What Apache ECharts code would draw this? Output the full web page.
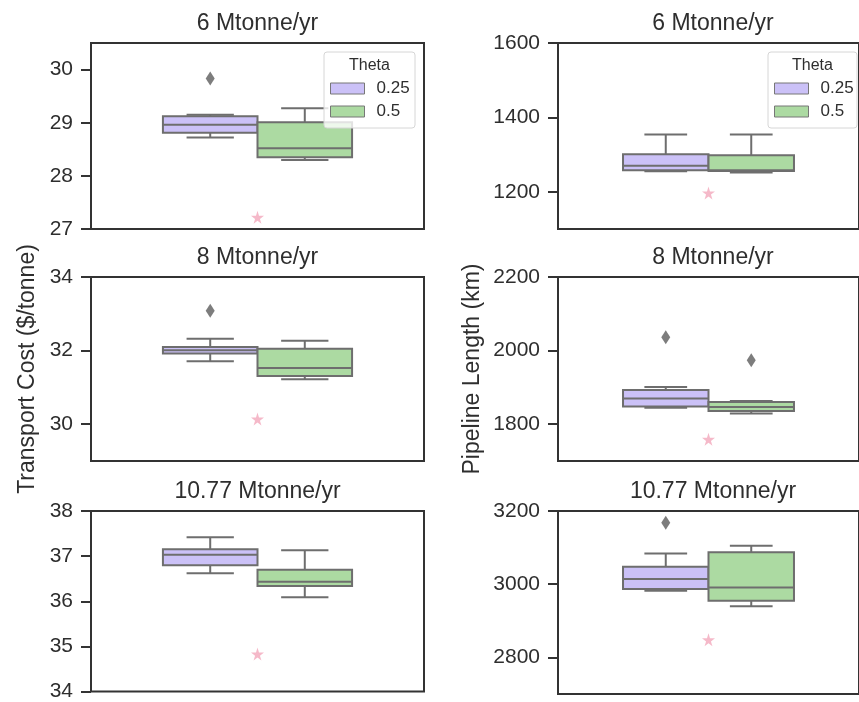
<!DOCTYPE html>
<html><head><meta charset="utf-8">
<script src="https://cdn.jsdelivr.net/npm/echarts@6/dist/echarts.min.js"></script>
<style>html,body{margin:0;padding:0;background:#fff}#c{width:859px;height:702px}</style>
</head><body><div id="c"></div>
<script>
// ---------------- data ----------------
const panelTitles = ['6 Mtonne/yr', '8 Mtonne/yr', '10.77 Mtonne/yr'];
const thetaLevels = ['0.25', '0.5'];
// box stats per panel: [lower whisker, q1, median, q3, upper whisker]
const costBox025 = [[28.72, 28.81, 28.96, 29.12, 29.15], [31.71, 31.92, 32.01, 32.10, 32.32], [36.62, 36.80, 37.03, 37.15, 37.42]];
const costBox05  = [[28.30, 28.35, 28.52, 29.01, 29.27], [31.22, 31.31, 31.53, 32.05, 32.27], [36.09, 36.34, 36.43, 36.70, 37.13]];
const costOutliers025 = [[29.83], [33.08], []];
const costOutliers05  = [[], [], []];
const costReference = [27.22, 30.14, 34.83];
const costTicks = [[27, 28, 29, 30], [30, 32, 34], [34, 35, 36, 37, 38]];
const costRange = [[27, 30.5], [29, 34], [34, 38]];

const lengthBox025 = [[1255, 1258, 1270, 1301, 1354], [1845, 1848, 1870, 1893, 1901], [2982, 2987, 3014, 3048, 3084]];
const lengthBox05  = [[1252, 1256, 1258, 1298, 1354], [1829, 1836, 1847, 1860, 1863], [2940, 2955, 2991, 3087, 3105]];
const lengthOutliers025 = [[], [2036], [3168]];
const lengthOutliers05  = [[], [1974], []];
const lengthReference = [1197, 1759, 2848];
const lengthTicks = [[1200, 1400, 1600], [1800, 2000, 2200], [2800, 3000, 3200]];
const lengthRange = [[1100, 1600], [1700, 2200], [2700, 3200]];

// ---------------- layout / style ----------------
const FONT = '"Liberation Sans", Arial, Helvetica, sans-serif';
const TXT = '#2e2e2e';
const rows = [{ top: 43, height: 186 }, { top: 277, height: 184 }, { top: 511, height: 183 }];
const cols = [{ left: 91, width: 333 }, { left: 558, width: 310 }];
const BOX_W = 0.284;
const OFFSETS = [-0.142, 0.142];
const FILLS = ['#cbc1f7', '#acdaa2'];
const EDGE = '#6e6e6e';
const STAR = 'path://M50,0 L61,35 L98,35 L68,57 L79,91 L50,70 L21,91 L32,57 L2,35 L39,35 Z';

const metrics = [
  { box: [costBox025, costBox05], out: [costOutliers025, costOutliers05], ref: costReference, ticks: costTicks, range: costRange, name: 'Transport Cost ($/tonne)', nameGap: 52 },
  { box: [lengthBox025, lengthBox05], out: [lengthOutliers025, lengthOutliers05], ref: lengthReference, ticks: lengthTicks, range: lengthRange, name: 'Pipeline Length (km)', nameGap: 74 }
];

function renderBox(params, api) {
  const x = api.value(0), lo = api.value(1), q1 = api.value(2), md = api.value(3), q3 = api.value(4), hi = api.value(5);
  const h = BOX_W / 2, ch = BOX_W / 4;
  const a = api.coord([x - h, q3]), b = api.coord([x + h, q1]);
  const m1 = api.coord([x - h, md]), m2 = api.coord([x + h, md]);
  const top = api.coord([x, hi]), bot = api.coord([x, lo]);
  const c1 = api.coord([x - ch, hi]), c2 = api.coord([x + ch, hi]);
  const d1 = api.coord([x - ch, lo]), d2 = api.coord([x + ch, lo]);
  const ls = { stroke: EDGE, lineWidth: 2, fill: null };
  return { type: 'group', children: [
    { type: 'line', shape: { x1: top[0], y1: a[1], x2: top[0], y2: top[1] }, style: ls },
    { type: 'line', shape: { x1: c1[0], y1: c1[1], x2: c2[0], y2: c2[1] }, style: ls },
    { type: 'line', shape: { x1: bot[0], y1: b[1], x2: bot[0], y2: bot[1] }, style: ls },
    { type: 'line', shape: { x1: d1[0], y1: d1[1], x2: d2[0], y2: d2[1] }, style: ls },
    { type: 'rect', shape: { x: a[0], y: a[1], width: b[0] - a[0], height: b[1] - a[1] }, style: { fill: api.visual('color'), stroke: EDGE, lineWidth: 2 } },
    { type: 'line', shape: { x1: m1[0], y1: m1[1], x2: m2[0], y2: m2[1] }, style: ls }
  ] };
}

const grid = [], xAxis = [], yAxis = [], series = [], title = [];
metrics.forEach((m, c) => {
  rows.forEach((rw, r) => {
    const gi = grid.length;
    grid.push({ left: cols[c].left, width: cols[c].width, top: rw.top, height: rw.height, show: true, borderColor: '#333', borderWidth: 2, backgroundColor: '#fff' });
    xAxis.push({ type: 'value', gridIndex: gi, min: -0.5, max: 0.5, show: false });
    yAxis.push({
      type: 'value', gridIndex: gi, position: 'left', min: m.range[r][0], max: m.range[r][1],
      axisLine: { show: false, onZero: false },
      axisTick: { show: true, length: 10, lineStyle: { color: '#333', width: 2 }, customValues: m.ticks[r] },
      axisLabel: { color: TXT, fontSize: 21, fontFamily: FONT, margin: 18, customValues: m.ticks[r], formatter: v => String(v) },
      splitLine: { show: false },
      name: r === 1 ? m.name : '', nameLocation: 'middle', nameGap: m.nameGap,
      nameTextStyle: { color: TXT, fontSize: 23, fontFamily: FONT }
    });
    title.push({ text: panelTitles[r], left: cols[c].left + cols[c].width / 2, top: rw.top - 31, textAlign: 'center', padding: 0,
      textStyle: { color: TXT, fontSize: 23, fontWeight: 'normal', fontFamily: FONT } });
    thetaLevels.forEach((t, k) => {
      const s = m.box[k][r];
      series.push({ type: 'custom', name: t, xAxisIndex: gi, yAxisIndex: gi, renderItem: renderBox,
        itemStyle: { color: FILLS[k] }, encode: { x: 0, y: [1, 2, 3, 4, 5] },
        data: [[OFFSETS[k], s[0], s[1], s[2], s[3], s[4]]], z: 2 });
      if (m.out[k][r].length) {
        series.push({ type: 'scatter', name: 'outlier', xAxisIndex: gi, yAxisIndex: gi, symbol: 'diamond', symbolSize: [9, 14],
          itemStyle: { color: '#5c5c5c' }, data: m.out[k][r].map(v => [OFFSETS[k], v]), z: 3 });
      }
    });
    series.push({ type: 'scatter', name: 'reference', xAxisIndex: gi, yAxisIndex: gi, symbol: STAR, symbolSize: 13,
      itemStyle: { color: '#f3a8bb' }, data: [[0, m.ref[r]]], z: 3 });
  });
});

const legendBoxes = [{ x: 324, y: 52, w: 91, h: 76 }, { x: 768, y: 52, w: 89, h: 76 }];
const legend = legendBoxes.map(b => ({
  data: thetaLevels, orient: 'vertical', left: b.x + 6, top: b.y + 28, itemGap: 6, padding: 0,
  icon: 'rect', itemWidth: 34, itemHeight: 11, itemStyle: { borderColor: '#777', borderWidth: 1 },
  textStyle: { color: TXT, fontSize: 17, fontFamily: FONT, padding: [0, 0, 0, 7] }, selectedMode: false, z: 6
}));
const graphic = [];
legendBoxes.forEach(b => {
  graphic.push({ type: 'rect', z: 5, shape: { x: b.x, y: b.y, width: b.w, height: b.h, r: 3 }, style: { fill: 'rgba(255,255,255,0.8)', stroke: '#d6d6d6', lineWidth: 1 } });
  graphic.push({ type: 'text', z: 6, x: b.x + b.w / 2, y: b.y + 14, style: { text: 'Theta', fill: TXT, font: '16px ' + FONT, textAlign: 'center', textVerticalAlign: 'middle' } });
});

const chart = echarts.init(document.getElementById('c'), null, { renderer: 'canvas' });
chart.setOption({ animation: false, backgroundColor: '#fff', title, grid, xAxis, yAxis, series, legend, graphic });
</script></body></html>
